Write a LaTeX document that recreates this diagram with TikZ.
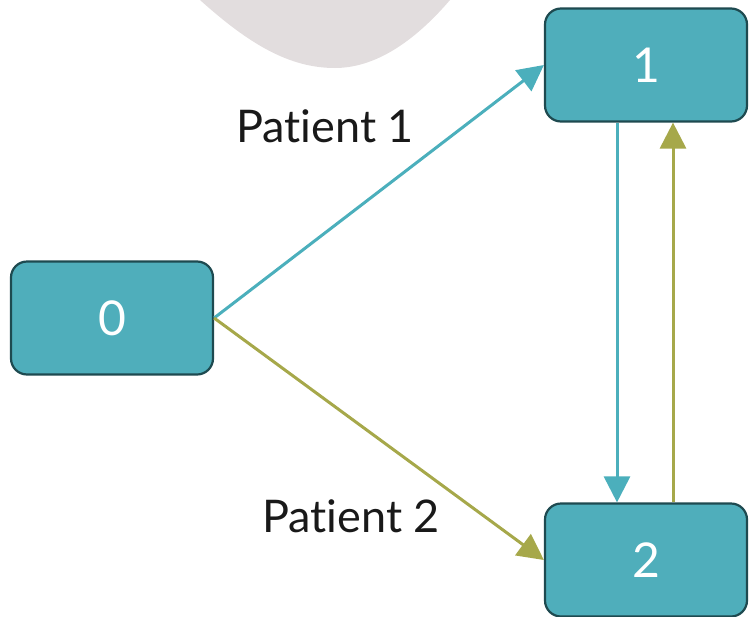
\documentclass[tikz,border=0pt]{standalone}
\usepackage{fontspec}
\setmainfont[Ligatures=NoCommon]{Lato}
\usetikzlibrary{arrows.meta}
\definecolor{boxfill}{HTML}{4FAEBB}
\definecolor{boxedge}{HTML}{1E4A50}
\definecolor{tealline}{HTML}{4BAFBC}
\definecolor{oliveline}{HTML}{A6A84A}
\definecolor{blobgrey}{HTML}{E2DDDE}
\tikzset{
  statebox/.style={draw=boxedge, line width=2.2pt, fill=boxfill, rounded corners=16pt,
    minimum width=202pt, minimum height=113pt, inner sep=0pt,
    text=white, font=\fontsize{48}{52}\selectfont},
  flow/.style={line width=3pt, -{Triangle[length=26pt,width=26pt]}},
  tag/.style={anchor=base, font=\fontsize{45}{50}\selectfont, text=black!90}
}
\begin{document}
\begin{tikzpicture}[x=1pt,y=-1pt]
  \useasboundingbox (0,0) rectangle (749,616);
  % soft backdrop shape at the top edge
  \fill[blobgrey] (190,-10) -- (200,0) .. controls (250,45) and (290,68) .. (335,68)
        .. controls (380,68) and (420,35) .. (450,0) -- (460,-10) -- cycle;
  % states
  \node[statebox] (n0) at (112,318) {0};
  \node[statebox] (n1) at (646,65) {1};
  \node[statebox] (n2) at (646,560) {2};
  % transitions
  \draw[flow, tealline] (n0.east) -- (n1.west);
  \draw[flow, oliveline] (n0.east) -- (n2.west);
  \draw[flow, tealline] ([xshift=-29pt]n1.south) -- ([xshift=-29pt]n2.north);
  \draw[flow, oliveline] ([xshift=27pt]n2.north) -- ([xshift=27pt]n1.south);
  % labels
  \node[tag] (l1) at (325,142) {Patient 1};
  \node[tag] (l2) at (351,532) {Patient 2};
\end{tikzpicture}
\end{document}
